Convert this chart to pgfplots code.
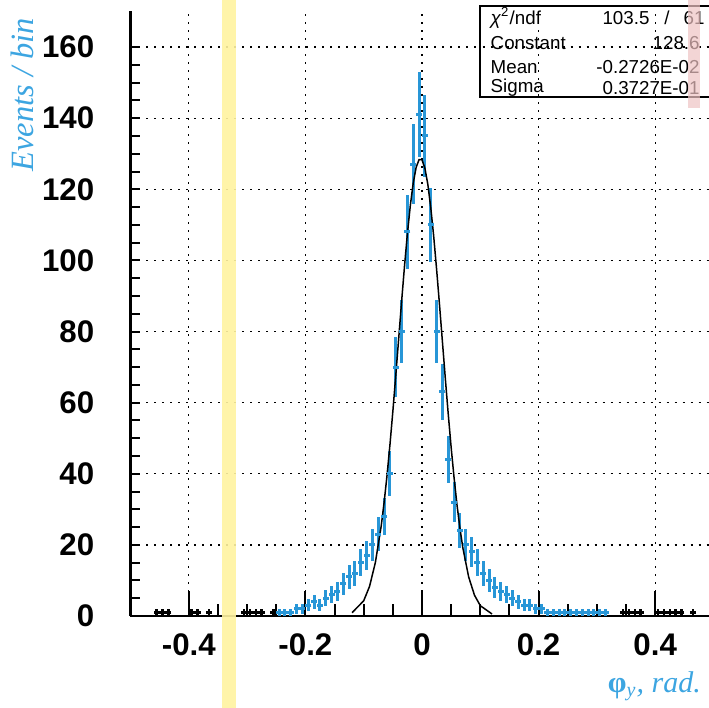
\documentclass[border=0pt]{standalone}
\usepackage{pgfplots}
\pgfplotsset{compat=1.18}
\usepackage{fontspec}
\setmainfont{Liberation Sans}
\newfontfamily\seriffont{Liberation Serif}
\definecolor{histblue}{RGB}{40,150,215}
\definecolor{labelblue}{RGB}{60,165,225}
\definecolor{stripyellow}{RGB}{255,243,160}
\definecolor{strippink}{RGB}{238,195,195}
\newcommand\statfont{\fontsize{7.5}{9}\selectfont}
\begin{document}
\begin{tikzpicture}
\useasboundingbox (-52.2pt,-36.8pt) rectangle (231.4pt,246.4pt);
\begin{axis}[
  at={(0pt,0pt)}, anchor=south west,
  scale only axis, width=233.2pt, height=241.8pt,
  xmin=-0.5, xmax=0.5, ymin=0, ymax=170,
  axis lines=left, axis line style={-, line width=1pt, black},
  clip=false,
  xtick={-0.4,-0.2,0,0.2,0.4}, xticklabels={-0.4,-0.2,0,0.2,0.4},
  minor x tick num=3,
  ytick={0,20,...,160}, yticklabels={0,20,40,60,80,100,120,140,160},
  minor y tick num=3,
  tick align=inside,
  major tick length=4pt, minor tick length=4pt,
  xtick style={/pgfplots/major tick length=10pt, /pgfplots/minor tick length=4.8pt, line width=0.8pt, black},
  ytick style={line width=0.8pt, black},
  grid=major, grid style={black, line width=0.5pt, dash pattern=on 0.8pt off 2.4pt},
  ticklabel style={font=\fontsize{12.5}{14}\selectfont\bfseries, black},
  xticklabel style={yshift=-3.5pt},
  yticklabel style={xshift=-11pt},
  ylabel={\seriffont\itshape Events / bin},
  ylabel style={at={(axis description cs:-0.186,0.862)}, anchor=center, font=\fontsize{13}{15}\selectfont, text=labelblue},
  xlabel={{\seriffont\bfseries φ}\textsubscript{\seriffont\itshape y}{\seriffont\itshape , rad.}},
  xlabel style={at={(axis description cs:0.818,-0.116)}, anchor=west, inner sep=0pt, font=\fontsize{12}{14}\selectfont, text=labelblue},
]
% histogram (blue part)
\addplot[only marks, color=histblue, mark=-, mark size=1.2pt, mark options={line width=1.2pt},
  error bars/.cd, y dir=both, y explicit, error bar style={line width=1.2pt, histblue}, error mark=none]
  table[x=x, y=y, y error=e] {
x y e
-0.245 1 1
-0.235 1 1
-0.225 1 1
-0.215 2 1.41
-0.205 2 1.41
-0.195 3 1.73
-0.185 4 2
-0.175 3 1.73
-0.165 5 2.24
-0.155 6 2.45
-0.145 7 2.65
-0.135 9 3
-0.125 11 3.32
-0.115 12 3.46
-0.105 15 3.87
-0.095 17 4.12
-0.085 20 4.47
-0.075 23 4.80
-0.065 28 5.29
-0.055 40 6.32
-0.045 70 8.37
-0.035 80 8.94
-0.025 108 10.39
-0.015 127 11.27
-0.005 141 11.87
0.005 135 11.62
0.015 110 10.49
0.025 80 8.94
0.035 63 7.94
0.045 44 6.63
0.055 32 5.66
0.065 24 4.90
0.075 20 4.47
0.085 18 4.24
0.095 15 3.87
0.105 12 3.46
0.115 10 3.16
0.125 8 2.83
0.135 7 2.65
0.145 6 2.45
0.155 5 2.24
0.165 4 2
0.175 3 1.73
0.185 3 1.73
0.195 2 1.41
0.205 2 1.41
0.215 1 1
0.225 1 1
0.235 1 1
0.245 1 1
0.255 1 1
0.265 1 1
0.275 1 1
0.285 1 1
0.295 1 1
0.305 1 1
0.315 1 1
};
% histogram (outer tails, black)
\addplot[only marks, color=black, mark=-, mark size=1.2pt, mark options={line width=1pt},
  error bars/.cd, y dir=both, y explicit, error bar style={line width=1pt, black}, error mark=none]
  table[x=x, y=y, y error=e] {
x y e
-0.455 1 1
-0.445 1 1
-0.435 1 1
-0.395 1 1
-0.385 1 1
-0.365 1 1
-0.305 1 1
-0.295 1 1
-0.285 1 1
-0.275 1 1
-0.255 1 1
0.345 1 1
0.355 1 1
0.365 1 1
0.375 1 1
0.405 1 1
0.415 1 1
0.425 1 1
0.435 1 1
0.445 1 1
0.465 1 1
};
% gaussian fit
\addplot[black, line width=0.6pt] coordinates {
(-0.12,0.915)(-0.10,4.28)(-0.09,8.31)(-0.08,15.02)(-0.07,25.26)(-0.065,31.9)(-0.06,39.52)(-0.055,48.1)(-0.05,57.55)(-0.045,67.6)(-0.04,78.0)(-0.035,88.4)(-0.03,98.4)(-0.025,107.6)(-0.02,115.5)(-0.015,121.8)(-0.01,126.2)(-0.005,128.36)(0,128.3)(0.005,125.9)(0.01,121.4)(0.015,114.9)(0.02,106.9)(0.025,97.6)(0.03,87.6)(0.035,77.2)(0.04,66.8)(0.045,56.8)(0.05,47.4)(0.055,38.9)(0.06,31.3)(0.065,24.8)(0.07,19.2)(0.08,11.0)(0.09,5.86)(0.10,2.90)(0.12,0.575)
};
% statistics box
\draw[line width=0.8pt] (axis cs:0.1,146) rectangle (axis cs:0.56,171.5);
\node[anchor=west, font=\statfont, inner sep=0pt] at (axis cs:0.117,168.2) {\textit{χ}\textsuperscript{2}/ndf};
\node[anchor=east, font=\statfont, inner sep=0pt] at (axis cs:0.391,168.2) {103.5};
\node[anchor=center, font=\statfont, inner sep=0pt] at (axis cs:0.42,168.2) {/};
\node[anchor=west, font=\statfont, inner sep=0pt] at (axis cs:0.448,168.2) {61};
\node[anchor=west, font=\statfont, inner sep=0pt] at (axis cs:0.117,161.1) {Constant};
\node[anchor=east, font=\statfont, inner sep=0pt] at (axis cs:0.477,161.1) {128.6};
\node[anchor=west, font=\statfont, inner sep=0pt] at (axis cs:0.117,154.4) {Mean};
\node[anchor=east, font=\statfont, inner sep=0pt] at (axis cs:0.477,154.4) {-0.2726E-02};
\node[anchor=west, font=\statfont, inner sep=0pt] at (axis cs:0.117,148.5) {Sigma};
\node[anchor=east, font=\statfont, inner sep=0pt] at (axis cs:0.477,148.5) {0.3727E-01};
% scan artefacts
\fill[stripyellow, opacity=0.9] (axis cs:-0.343,-26) rectangle (axis cs:-0.319,174);
\fill[strippink, opacity=0.7] (axis cs:0.456,142.9) rectangle (axis cs:0.477,174);
\end{axis}
\end{tikzpicture}
\end{document}
